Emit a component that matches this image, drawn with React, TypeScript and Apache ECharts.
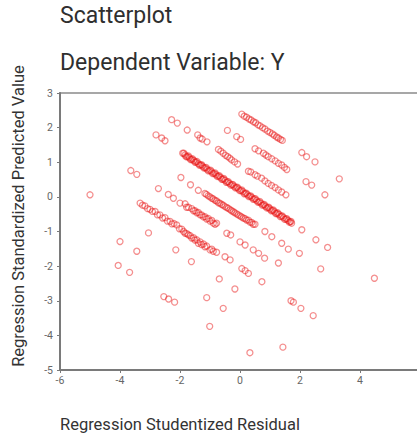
import React, { useEffect, useRef } from "react";
import * as echarts from "echarts";

const titleText = "Scatterplot";
const subtitleText = "Dependent Variable: Y";
const xAxisName = "Regression Studentized Residual";
const yAxisName = "Regression Standardized Predicted Value";

const lineA: [number, number][] = [
  [0.06, 2.39], [0.14, 2.33], [0.22, 2.3], [0.3, 2.25], [0.37, 2.22], [0.45, 2.17], [0.52, 2.14],
  [0.6, 2.08], [0.67, 2.05], [0.75, 2.0], [0.83, 1.96], [0.92, 1.9], [1.0, 1.86], [1.08, 1.82],
  [1.14, 1.78], [1.22, 1.73], [1.28, 1.7], [1.35, 1.66], [1.41, 1.63], [2.06, 1.28], [2.22, 1.16],
  [2.5, 1.01], [3.31, 0.52],
];
const lineB: [number, number][] = [
  [-0.42, 1.92], [-0.11, 1.74], [0.02, 1.66], [0.5, 1.39], [0.62, 1.33], [0.78, 1.26], [0.86, 1.21],
  [0.94, 1.16], [1.06, 1.1], [1.17, 1.04], [1.28, 0.97], [1.39, 0.92], [1.48, 0.85], [1.56, 0.79],
  [2.2, 0.44], [2.39, 0.34], [2.83, 0.06],
];
const lineC: [number, number][] = [
  [-2.28, 2.23], [-2.09, 2.13], [-1.76, 1.93], [-1.41, 1.79], [-1.33, 1.7], [-1.26, 1.67], [-1.1, 1.59],
  [-0.72, 1.37], [-0.64, 1.32], [-0.56, 1.26], [-0.48, 1.2], [-0.41, 1.16], [-0.34, 1.12], [-0.28, 1.07],
  [-0.18, 1.01], [-0.08, 0.95], [0.28, 0.74], [0.36, 0.72], [0.5, 0.64], [0.58, 0.6], [0.72, 0.54],
  [0.83, 0.46], [0.94, 0.39], [1.05, 0.33], [1.17, 0.27], [1.28, 0.2], [1.39, 0.14], [1.53, 0.06],
];
const lineD: [number, number][] = [
  [-2.8, 1.79], [-2.61, 1.7], [-2.5, 1.62],
  [-1.91, 1.26], [-1.83, 1.21], [-1.76, 1.16], [-1.69, 1.13], [-1.61, 1.08], [-1.54, 1.05], [-1.47, 1.01],
  [-1.39, 0.96], [-1.32, 0.92], [-1.25, 0.89], [-1.17, 0.84], [-1.1, 0.8], [-1.02, 0.76], [-0.94, 0.72],
  [-0.87, 0.68], [-0.8, 0.64], [-0.72, 0.6], [-0.65, 0.56], [-0.57, 0.51], [-0.5, 0.48], [-0.42, 0.43],
  [-0.35, 0.39], [-0.27, 0.35], [-0.2, 0.31], [-0.12, 0.27], [-0.05, 0.23], [0.03, 0.18], [0.1, 0.15],
  [0.18, 0.1], [0.25, 0.06], [0.33, 0.02], [0.4, -0.02], [0.48, -0.06], [0.55, -0.1], [0.63, -0.15],
  [0.7, -0.18], [0.78, -0.23], [0.85, -0.27], [0.93, -0.31], [1.0, -0.35], [1.08, -0.39], [1.15, -0.43],
  [1.23, -0.48], [1.3, -0.51], [1.38, -0.56], [1.45, -0.6], [1.53, -0.64], [1.6, -0.68], [1.67, -0.72],
  [1.72, -0.76], [2.06, -0.95], [2.53, -1.24], [2.92, -1.46], [4.48, -2.35],
];
const lineDDense: [number, number][] = [
  [-1.87, 1.26], [-1.8, 1.16], [-1.72, 1.18], [-1.65, 1.08], [-1.58, 1.1], [-1.5, 1.0], [-1.43, 1.02],
  [-1.36, 0.92], [-1.28, 0.93], [-1.21, 0.84], [-1.13, 0.85], [-1.06, 0.75], [-0.98, 0.77], [-0.91, 0.67],
  [-0.83, 0.69], [-0.76, 0.59], [-0.69, 0.61], [-0.61, 0.51], [-0.54, 0.53], [-0.46, 0.42], [-0.39, 0.44],
  [-0.31, 0.34], [-0.24, 0.36], [-0.16, 0.26], [-0.09, 0.28], [-0.01, 0.18], [0.06, 0.2], [0.14, 0.09],
  [0.21, 0.11], [0.29, 0.01], [0.36, 0.03], [0.44, -0.07], [0.51, -0.05], [0.59, -0.15], [0.66, -0.13],
  [0.74, -0.24], [0.81, -0.22], [0.89, -0.32], [0.96, -0.3], [1.04, -0.4], [1.11, -0.38], [1.19, -0.48],
  [1.26, -0.46], [1.34, -0.57], [1.41, -0.55], [1.49, -0.65], [1.56, -0.63], [1.64, -0.73], [1.7, -0.71],
];
const lineE: [number, number][] = [
  [-1.97, 0.56], [-1.65, 0.35], [-1.39, 0.19], [-1.17, 0.1], [-1.06, 0.03], [-0.94, -0.04], [-0.83, -0.1],
  [-0.72, -0.17], [-0.61, -0.22], [-0.5, -0.28], [-0.39, -0.33], [-0.28, -0.4], [-0.17, -0.46],
  [-0.06, -0.52], [0.05, -0.58], [0.17, -0.63], [0.28, -0.67], [0.39, -0.74], [0.5, -0.79], [0.83, -1.0],
  [1.06, -1.15], [1.39, -1.34], [1.61, -1.51], [1.98, -1.63], [2.69, -2.08],
];
const lineEDense: [number, number][] = [
  [-1.12, 0.07], [-1.0, 0.0], [-0.89, -0.06], [-0.78, -0.12], [-0.67, -0.18], [-0.56, -0.24],
  [-0.44, -0.31], [-0.33, -0.37], [-0.22, -0.43], [-0.11, -0.49], [0.0, -0.55], [0.11, -0.61],
  [0.22, -0.67], [0.33, -0.73], [0.44, -0.79],
];
const lineF: [number, number][] = [
  [-3.64, 0.76], [-3.44, 0.65], [-2.72, 0.24], [-2.39, 0.07], [-2.22, -0.04], [-2.0, -0.18], [-1.83, -0.2],
  [-1.78, -0.3], [-1.61, -0.34], [-1.5, -0.4], [-1.39, -0.45], [-1.28, -0.52], [-1.17, -0.57],
  [-1.06, -0.62], [-0.94, -0.68], [-0.78, -0.76], [-0.44, -1.05], [-0.31, -1.1], [0.0, -1.3],
  [0.17, -1.39], [0.44, -1.53], [0.62, -1.63], [0.82, -1.77], [1.28, -1.91],
];
const lineFDense: [number, number][] = [
  [-1.72, -0.3], [-1.55, -0.4], [-1.44, -0.46], [-1.33, -0.52], [-1.22, -0.58], [-1.11, -0.64],
  [-1.0, -0.7], [-0.89, -0.76], [-0.83, -0.79],
];
const lineG: [number, number][] = [
  [-3.33, -0.18], [-3.17, -0.26], [-3.0, -0.36], [-2.83, -0.42], [-2.67, -0.52], [-2.5, -0.6],
  [-2.33, -0.71], [-2.2, -0.77], [-2.11, -0.81], [-1.94, -0.93], [-1.83, -1.05], [-1.72, -1.1],
  [-1.61, -1.19], [-1.5, -1.25], [-1.39, -1.34], [-1.28, -1.38], [-1.17, -1.44], [-1.0, -1.53],
  [-0.89, -1.57], [-0.78, -1.6], [-0.5, -1.73], [-0.33, -1.82], [0.06, -2.07], [0.17, -2.13],
  [0.28, -2.21], [0.73, -2.45], [1.7, -3.0], [1.78, -3.04], [2.03, -3.22], [2.44, -3.43],
];
const lineGDense: [number, number][] = [
  [-3.25, -0.24], [-3.08, -0.34], [-2.92, -0.42], [-2.75, -0.52], [-2.58, -0.61], [-2.42, -0.7],
  [-2.27, -0.78], [-2.02, -0.92], [-1.88, -1.0], [-1.77, -1.06], [-1.66, -1.12], [-1.55, -1.18],
  [-1.44, -1.24], [-1.33, -1.3], [-1.22, -1.36], [-1.11, -1.42], [-0.94, -1.51],
];
const lineH: [number, number][] = [
  [-5.0, 0.06], [-3.05, -1.04], [-2.14, -1.53], [-1.62, -1.87], [-0.69, -2.37], [-0.17, -2.66],
];
const lineI: [number, number][] = [
  [-4.0, -1.29], [-3.44, -1.57], [-1.11, -2.91], [-0.56, -3.22], [1.43, -4.34],
];
const lineJ: [number, number][] = [
  [-4.06, -1.98], [-3.68, -2.18], [-2.54, -2.88], [-2.38, -2.95], [-2.18, -3.04], [-1.01, -3.74],
  [0.33, -4.5],
];

const allPoints = [
  ...lineA, ...lineB, ...lineC, ...lineD, ...lineDDense, ...lineE, ...lineEDense, ...lineF,
  ...lineFDense, ...lineG, ...lineGDense, ...lineH, ...lineI, ...lineJ,
];

export default function App() {
  const ref = useRef<HTMLDivElement>(null);
  useEffect(() => {
    if (!ref.current) return;
    const chart = echarts.init(ref.current, undefined, { renderer: "svg" });
    const font = "Roboto, 'Noto Sans', sans-serif";
    chart.setOption({
      animation: false,
      backgroundColor: "#ffffff",
      title: [
        {
          text: titleText,
          left: 60,
          top: 4,
          padding: 0,
          textStyle: { fontFamily: font, fontSize: 23, fontWeight: "normal", color: "#2f2f2f" },
        },
        {
          text: subtitleText,
          left: 60,
          top: 51,
          padding: 0,
          textStyle: { fontFamily: font, fontSize: 23, fontWeight: "normal", color: "#2f2f2f" },
        },
      ],
      graphic: [
        {
          type: "text",
          x: 18,
          y: 216,
          rotation: Math.PI / 2,
          style: {
            text: yAxisName,
            fontFamily: font,
            fontSize: 16.5,
            fill: "#333",
            textAlign: "center",
            textVerticalAlign: "middle",
          },
        },
      ],
      grid: {
        left: 60,
        top: 93,
        width: 360,
        height: 277,
        containLabel: false,
        outerBoundsMode: "none",
        show: true,
        borderColor: "#8a8a8a",
        borderWidth: 1.5,
        backgroundColor: "transparent",
      },
      xAxis: {
        type: "value",
        min: -6,
        max: 6,
        interval: 2,
        name: xAxisName,
        nameLocation: "start",
        nameGap: 0,
        nameTextStyle: {
          fontFamily: font,
          fontSize: 16.5,
          color: "#333",
          align: "left",
          verticalAlign: "top",
          padding: [46, 0, 0, 0],
        },
        axisLine: { show: true, onZero: false, lineStyle: { color: "#7a7a7a", width: 2 } },
        axisTick: { show: true, length: 3, lineStyle: { color: "#7a7a7a" } },
        axisLabel: { fontFamily: font, fontSize: 10.5, color: "#666", margin: 5 },
        splitLine: { show: false },
      },
      yAxis: {
        type: "value",
        min: -5,
        max: 3,
        interval: 1,
        axisLine: { show: true, onZero: false, lineStyle: { color: "#7a7a7a", width: 2 } },
        axisTick: { show: true, length: 3, lineStyle: { color: "#7a7a7a" } },
        axisLabel: { fontFamily: font, fontSize: 10.5, color: "#666", margin: 7 },
        splitLine: { show: false },
      },
      series: [
        {
          type: "scatter",
          data: allPoints,
          symbol: "circle",
          symbolSize: 6,
          itemStyle: {
            color: "rgba(255,255,255,0)",
            borderColor: "rgba(232,20,20,0.6)",
            borderWidth: 1.3,
          },
        },
      ],
    });
    return () => chart.dispose();
  }, []);
  return (
    <div
      ref={ref}
      style={{ position: "fixed", left: 0, top: 0, width: 417, height: 434, background: "#fff" }}
    />
  );
}
